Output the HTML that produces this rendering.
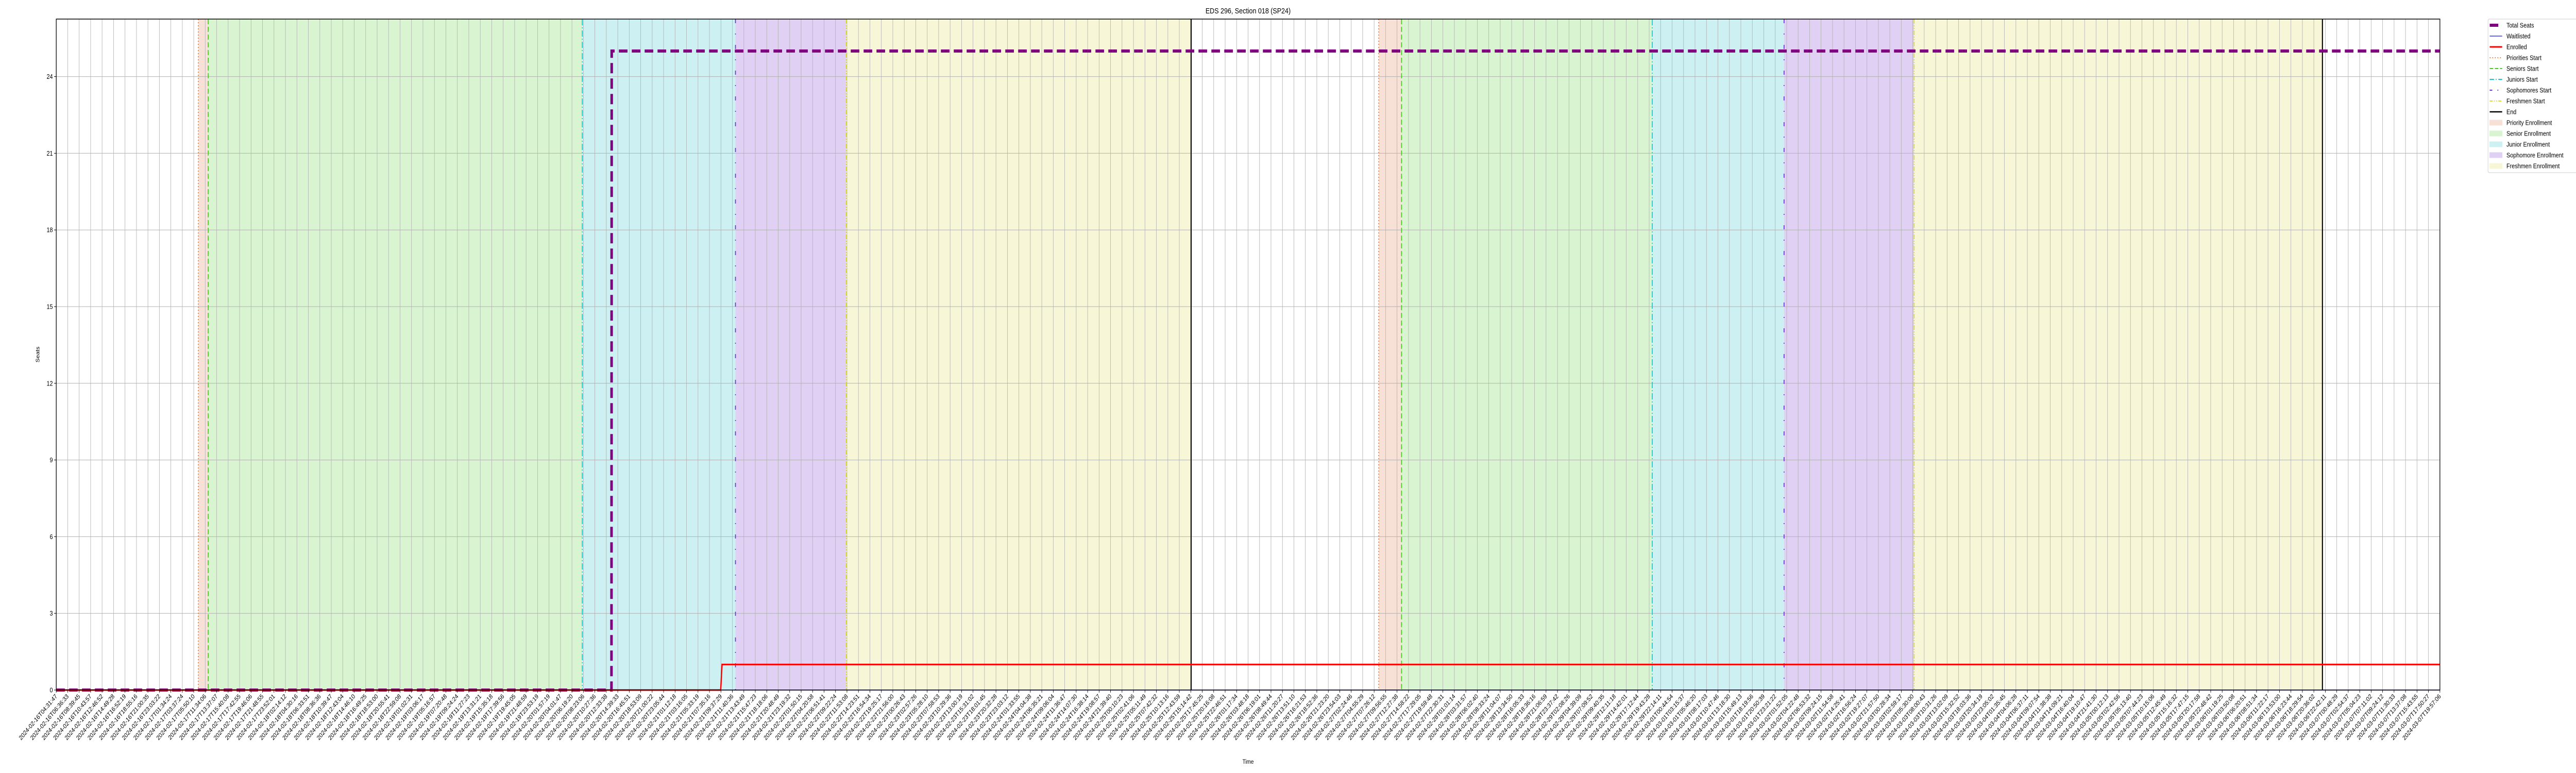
<!DOCTYPE html>
<html><head><meta charset="utf-8"><style>
html,body{margin:0;padding:0;background:#fff;overflow:hidden;width:100%;height:100%;}
svg{display:block;width:100vw;height:100vh;font-family:"Liberation Sans","DejaVu Sans",sans-serif;}
</style></head><body>
<svg id="chart" viewBox="0 0 6000 1500" preserveAspectRatio="none" xmlns="http://www.w3.org/2000/svg">
<g id="regions"></g>
<g id="grid"></g>
<g id="vlines"></g>
<g id="series"></g>
<g id="axes"></g>
<text x="2907" y="26" font-size="15" text-anchor="middle">EDS 296, Section 018 (SP24)</text>
<text x="0" y="0" font-size="12" text-anchor="middle" transform="translate(92,688) rotate(-90)">Seats</text>
<text x="2907" y="1482" font-size="12" text-anchor="middle">Time</text>
<g id="legend"></g>
</svg>
<script>
// ---- data ----
const yTicks = [0,3,6,9,12,15,18,21,24];
const knownLabels = {
0:'2024-02-16T04:31:47',1:'2024-02-16T06:36:33',2:'2024-02-16T08:39:45',3:'2024-02-16T10:43:57',4:'2024-02-16T12:46:52',
5:'2024-02-16T14:49:28',6:'2024-02-16T16:52:19',7:'2024-02-16T18:55:16',8:'2024-02-16T21:00:35',9:'2024-02-16T23:03:22',
10:'2024-02-17T01:34:24',11:'2024-02-17T03:37:24',12:'2024-02-17T05:50:10',13:'2024-02-17T11:34:06',14:'2024-02-17T13:37:07',
15:'2024-02-17T15:40:08',16:'2024-02-17T17:42:55',17:'2024-02-17T19:46:06',18:'2024-02-17T21:48:55',19:'2024-02-17T23:52:01',
20:'2024-02-18T02:14:12',21:'2024-02-18T04:30:16',22:'2024-02-18T06:33:51',23:'2024-02-18T08:36:36',24:'2024-02-18T10:39:47',
25:'2024-02-18T12:43:04',26:'2024-02-18T14:46:10',27:'2024-02-18T16:49:25',28:'2024-02-18T18:53:00',29:'2024-02-18T20:55:41',
30:'2024-02-18T22:59:08',31:'2024-02-19T01:02:31',32:'2024-02-19T03:06:17',33:'2024-02-19T05:16:57',34:'2024-02-19T07:20:48',
35:'2024-02-19T09:24:24',36:'2024-02-19T11:27:23',37:'2024-02-19T13:31:21',38:'2024-02-19T15:35:18',39:'2024-02-19T17:39:56',
40:'2024-02-19T19:45:05',41:'2024-02-19T21:48:59',42:'2024-02-19T23:53:19',43:'2024-02-20T01:57:19',44:'2024-02-20T04:01:47',
45:'2024-02-20T06:19:20',46:'2024-02-20T08:23:06',47:'2024-02-20T10:27:36',48:'2024-02-20T12:33:38',49:'2024-02-20T14:39:33',
50:'2024-02-20T16:45:51',51:'2024-02-20T18:53:09',52:'2024-02-20T21:00:22',53:'2024-02-20T23:05:44',54:'2024-02-21T01:12:18',
55:'2024-02-21T03:16:05',56:'2024-02-21T05:33:19',57:'2024-02-21T07:35:16',58:'2024-02-21T09:37:29',59:'2024-02-21T11:40:36',
60:'2024-02-21T13:43:49',61:'2024-02-21T15:47:23',195:'2024-03-06T16:23:44',196:'2024-03-06T18:29:54',197:'2024-03-06T20:36:02',
198:'2024-03-06T22:42:11',199:'2024-03-07T00:48:29',200:'2024-03-07T02:54:37',201:'2024-03-07T05:04:23',202:'2024-03-07T07:11:02',
203:'2024-03-07T09:24:12',204:'2024-03-07T11:30:33',205:'2024-03-07T13:37:08',206:'2024-03-07T15:43:55',207:'2024-03-07T17:50:27',
208:'2024-03-07T19:57:06'};
const tickCount = 209;
// series (x as tick-index position)
const seatsX = [0, 48.45, 48.47, 208];
const seatsY = [0, 0, 25, 25];
const enrolledX = [0, 57.98, 58.1, 208];
const enrolledY = [0, 0, 1, 1];
const waitX = [0, 208];
const waitY = [0, 0];
// phase start positions (tick-index)
const cycle1 = [12.40, 13.26, 45.90, 59.27, 68.94, 99.03];
const cycle2 = [115.40, 117.39, 139.27, 150.77, 162.12, 197.75];

// ---- scales ----
const L=131, R=5683, T=37, B=1339, YMAX=26.25;
const xs = i => L + (R-L)*i/(tickCount-1);
const ys = v => B - (B-T)*v/YMAX;
const NS='http://www.w3.org/2000/svg';
function mk(tag, attrs, parent){const e=document.createElementNS(NS,tag);for(const k in attrs)e.setAttribute(k,attrs[k]);parent.appendChild(e);return e;}

function pad(n){return String(n).padStart(2,'0');}
const keys = Object.keys(knownLabels).map(Number).sort((a,b)=>a-b);
function labelFor(i){
  if(knownLabels[i]) return knownLabels[i];
  let a=keys[0],b=keys[keys.length-1];
  for(const k of keys){ if(k<i) a=k; if(k>i){b=k;break;} }
  const ta=Date.parse(knownLabels[a]+'Z'), tb=Date.parse(knownLabels[b]+'Z');
  const d=new Date(ta+(tb-ta)*(i-a)/(b-a));
  return d.getUTCFullYear()+'-'+pad(d.getUTCMonth()+1)+'-'+pad(d.getUTCDate())+'T'+pad(d.getUTCHours())+':'+pad(d.getUTCMinutes())+':'+pad(d.getUTCSeconds());
}

const regions=document.getElementById('regions'), grid=document.getElementById('grid'),
 vl=document.getElementById('vlines'), ser=document.getElementById('series'), axes=document.getElementById('axes'), leg=document.getElementById('legend');

const phaseFill=['#f7e0d6','#d9f4d0','#cdf0f2','#e0d0f4','#f7f7d8'];
const phaseNames=['priority','senior','junior','sophomore','freshmen'];
const lineStyle=[
 {c:'#ee7733',d:'2 4',w:2},
 {c:'#44cc22',d:'10 5',w:2},
 {c:'#11c8d0',d:'12 4 2 4',w:2},
 {c:'#6a2fd6',d:'8 20 2 20',w:2},
 {c:'#dddd22',d:'9 3 2 3 2 3',w:2},
 {c:'#000000',d:'',w:2.5}];
[cycle1,cycle2].forEach((cyc,ci)=>{
  for(let p=0;p<5;p++){
    const r=mk('rect',{x:xs(cyc[p]),y:T,width:xs(cyc[p+1])-xs(cyc[p]),height:B-T,fill:phaseFill[p]},regions);
    
    
  }
});
for(let i=0;i<tickCount;i++){
  const g=mk('line',{x1:xs(i),x2:xs(i),y1:T,y2:B,stroke:'#b0b0b0','stroke-width':1},grid);
  
  
}
yTicks.forEach(v=>{
  const g=mk('line',{x1:L,x2:R,y1:ys(v),y2:ys(v),stroke:'#b0b0b0','stroke-width':1},grid);
  
  
});
const lineNames=['priorities-start','seniors-start','juniors-start','sophomores-start','freshmen-start','end'];
[cycle1,cycle2].forEach((cyc,ci)=>{
  cyc.forEach((v,p)=>{
    const s=lineStyle[p];
    const l=mk('line',{x1:xs(v),x2:xs(v),y1:T,y2:B,stroke:s.c,'stroke-width':s.w,'stroke-dasharray':s.d},vl);
    
    
  });
});
function poly(X,Y){return X.map((x,k)=>xs(x).toFixed(2)+','+ys(Y[k]).toFixed(2)).join(' ');}
const wl=mk('polyline',{points:poly(waitX,waitY),fill:'none',stroke:'#3333ff','stroke-width':1.5},ser);


const st=mk('polyline',{points:poly(seatsX,seatsY),fill:'none',stroke:'#800080','stroke-width':6,'stroke-dasharray':'20 10'},ser);


const en=mk('polyline',{points:poly(enrolledX,enrolledY),fill:'none',stroke:'#ff0000','stroke-width':3},ser);


const fr=mk('rect',{x:L,y:T,width:R-L,height:B-T,fill:'none',stroke:'#000','stroke-width':1.5},axes);


yTicks.forEach(v=>{
  mk('line',{x1:L-5,x2:L,y1:ys(v),y2:ys(v),stroke:'#000','stroke-width':1},axes);
  const t=mk('text',{x:L-8,y:ys(v)+4.5,'font-size':13,'text-anchor':'end'},axes);
  t.textContent=v;
  
  
});
for(let i=0;i<tickCount;i++){
  const x=xs(i);
  mk('line',{x1:x,x2:x,y1:B,y2:B+5,stroke:'#000','stroke-width':1},axes);
  const t=mk('text',{x:0,y:0,'font-size':12.5,'text-anchor':'end',transform:'translate('+(x+3)+','+(B+13)+') rotate(-45)'},axes);
  t.textContent=labelFor(i);
  
  
}
const lb=mk('rect',{x:5795,y:37,width:220,height:298,fill:'#fff',stroke:'#cccccc','stroke-width':1,rx:3},leg);


const legItems=[
 ['Total Seats','line','#800080','',6,''],
 ['Waitlisted','line','#3333ff','',1.5,''],
 ['Enrolled','line','#ff0000','',3,''],
 ['Priorities Start','line','#ee7733','',2,'2 4'],
 ['Seniors Start','line','#44cc22','',2,'8 4'],
 ['Juniors Start','line','#11c8d0','',2,'10 4 2 4'],
 ['Sophomores Start','line','#6a2fd6','',2,'6 12 2 12'],
 ['Freshmen Start','line','#dddd22','',2,'7 3 2 3 2 3'],
 ['End','line','#000000','',2.5,''],
 ['Priority Enrollment','patch','#f7e0d6'],
 ['Senior Enrollment','patch','#d9f4d0'],
 ['Junior Enrollment','patch','#cdf0f2'],
 ['Sophomore Enrollment','patch','#e0d0f4'],
 ['Freshmen Enrollment','patch','#f7f7d8']];
legItems.forEach((it,k)=>{
  const y=49+k*21;
  const g=mk('g',{},leg);
  
  
  if(it[1]==='line'){
    mk('line',{x1:5799,x2:it[0]==='Total Seats'?5819:5828,y1:y,y2:y,stroke:it[2],'stroke-width':it[4],'stroke-dasharray':it[5]},g);
  } else {
    mk('rect',{x:5799,y:y-5,width:29,height:10,fill:it[2],stroke:it[2]},g);
  }
  const t=mk('text',{x:5838,y:y+4.5,'font-size':13},g);
  t.textContent=it[0];
});
</script>
</body></html>
